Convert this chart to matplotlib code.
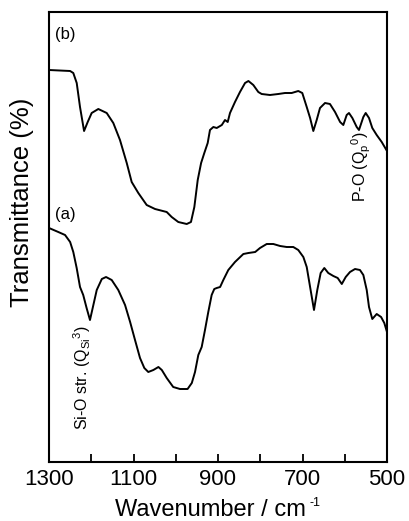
import matplotlib
matplotlib.use("Agg")
import matplotlib.pyplot as plt
from matplotlib.ticker import MultipleLocator

plt.rcParams['font.family'] = ['Liberation Sans', 'DejaVu Sans']
plt.rcParams['mathtext.fontset'] = 'custom'
plt.rcParams['mathtext.rm'] = 'Liberation Sans'
plt.rcParams['mathtext.it'] = 'Liberation Sans'
plt.rcParams['mathtext.default'] = 'regular'

# Spectrum (b) (upper), wavenumber / cm-1 and transmittance (arb. units, offset)
wn_b = [1300, 1250, 1242.5, 1234.4, 1226.6, 1217, 1208.4, 1199, 1183.3, 1163.4,
        1147.8, 1132, 1116, 1104.3, 1088.6, 1068.8, 1049, 1021.4, 1009.6, 994,
        974, 964, 956, 948, 940, 932.4, 924.4, 919, 911, 903,
        891, 883.4, 877, 871.6, 859.8, 848, 836, 828, 816.4, 804.6,
        796.6, 777, 757.3, 741.4, 725.6, 710, 700.5, 690, 682, 674.4,
        666.4, 658.6, 646.7, 635, 623, 611, 603.4, 595.4, 590, 582,
        571.7, 566.3, 556, 550.4, 542.6, 534.8, 524.4, 512.5, 500]
t_b = [392, 391, 389, 379, 355, 331, 340, 349, 353, 349,
       339, 322, 299, 280, 269, 257, 253, 250, 245, 240,
       238, 240, 255, 282, 299, 309, 319, 332, 335, 334,
       337, 342, 340, 349, 360, 370, 379, 381, 377, 370,
       368, 367, 368, 369, 369, 371, 369, 355, 344, 331,
       342, 354, 359, 358, 350, 340, 337, 347, 349, 344,
       335, 332, 345, 349, 344, 334, 327, 320, 311]

# Spectrum (a) (lower)
wn_a = [1300, 1278, 1262, 1250, 1242.5, 1234.5, 1226.6, 1219, 1211, 1203,
        1195, 1187, 1175, 1165, 1151.6, 1136, 1120, 1108, 1096.4, 1084.6,
        1074.4, 1065, 1053, 1041, 1033, 1021.4, 1006, 990, 972, 962,
        954.4, 946.6, 938.6, 930.8, 923, 915, 908.8, 903, 895, 887.4,
        875.6, 859.8, 840, 828, 812, 800.6, 784.7, 769, 753, 737.4,
        721.8, 710, 698, 690, 682, 672.8, 665, 657, 648.4, 639,
        627, 616.7, 607, 597.7, 587.6, 575.7, 564, 556, 548, 542.6,
        534.8, 524.4, 514, 506.4, 500]
t_a = [234, 230, 227, 220, 210, 194, 175, 167, 154, 142,
       157, 172, 183, 185, 182, 172, 157, 140, 122, 104,
       94, 90, 92, 95, 92, 84, 75, 73, 73, 79,
       90, 107, 115, 132, 150, 167, 173, 174, 175, 182,
       192, 200, 208, 209, 210, 214, 218, 218, 216, 215,
       215, 212, 205, 195, 175, 152, 172, 189, 194, 189,
       186, 184, 178, 185, 190, 193, 192, 187, 172, 155,
       143, 148, 145, 139, 130]

x_ticks = [1300, 1100, 900, 700, 500]
x_ticklabels = ['1300', '1100', '900', '700', '500']

W, H = 409, 521
fig = plt.figure(figsize=(W / 100, H / 100), dpi=100)
ax = fig.add_axes([49 / W, 1 - 462 / H, 338 / W, 450 / H])

ax.plot(wn_b, t_b, color='black', lw=1.4)
ax.plot(wn_a, t_a, color='black', lw=1.4)

ax.set_xlim(1300, 500)
ax.set_ylim(0, 450)
ax.set_xticks(x_ticks)
ax.set_xticklabels(x_ticklabels)
ax.xaxis.set_minor_locator(MultipleLocator(100))
ax.tick_params(axis='x', which='both', direction='in', length=5.5, width=1.3,
               top=False, labelsize=16, pad=5)
ax.set_yticks([])
for s in ax.spines.values():
    s.set_linewidth(1.5)

def fx(px):
    return px / W

def fy(py):
    return 1 - py / H

fig.text(fx(22), fy(202), 'Transmittance (%)', rotation=90, ha='center', va='center',
         fontsize=18.5)
fig.text(fx(115), fy(516), 'Wavenumber / cm', ha='left', va='baseline', fontsize=17)
fig.text(fx(309), fy(506), '-1', ha='left', va='baseline', fontsize=9)
fig.text(fx(55), fy(34), '(b)', ha='left', va='center', fontsize=12)
fig.text(fx(55), fy(214), '(a)', ha='left', va='center', fontsize=12)
fig.text(fx(361), fy(167), r'P-O (Q$_{p}{}^{0}$)', rotation=90, ha='center', va='center',
         fontsize=11.5)
fig.text(fx(82), fy(378), r'Si-O str. (Q$_{Si}{}^{3}$)', rotation=90, ha='center',
         va='center', fontsize=11.5)

fig.savefig('out.png', dpi=100)
